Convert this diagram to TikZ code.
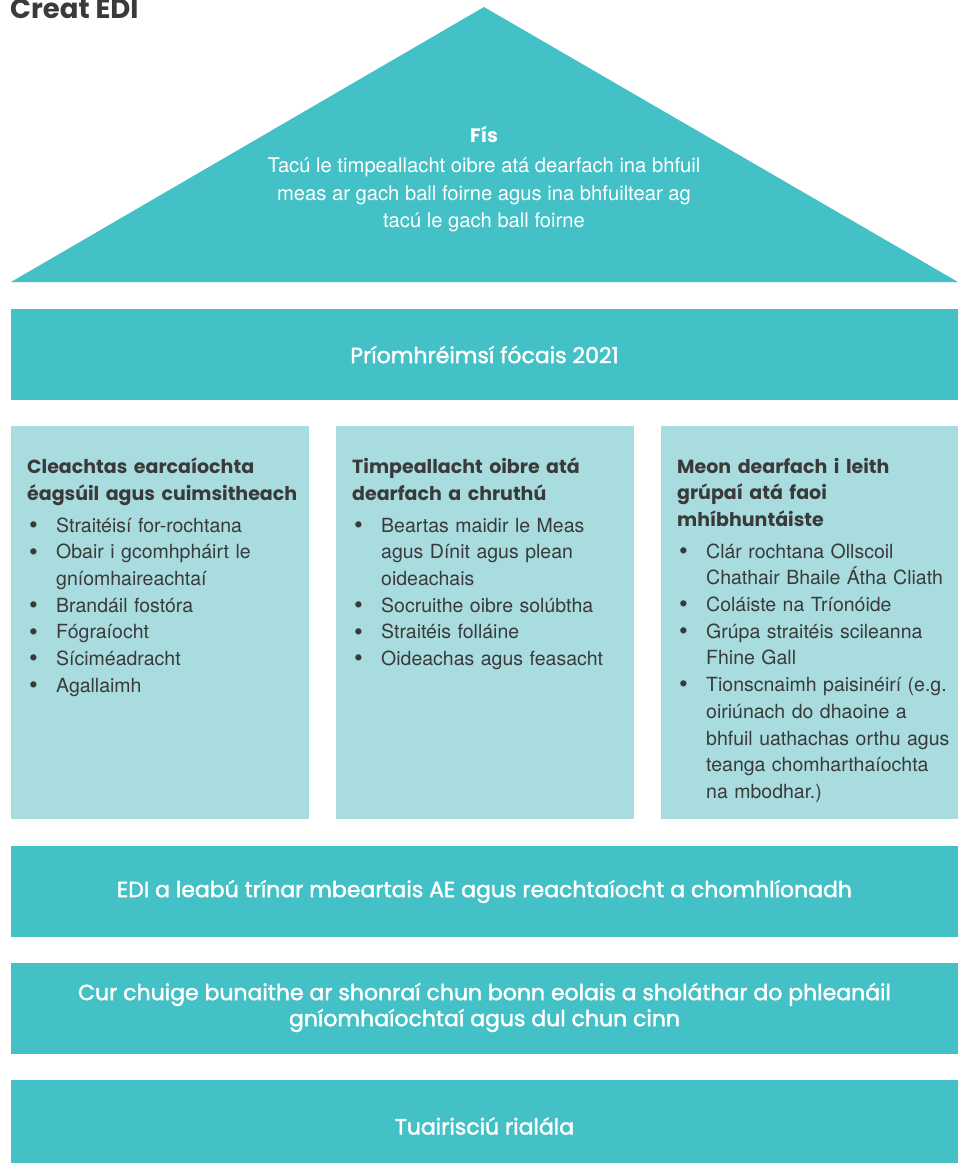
\documentclass[tikz,border=0pt]{standalone}
\usepackage{fontspec}
\setmainfont{TeX Gyre Heros}
\newfontfamily\headfont{Poppins}
\newfontfamily\bandfont{Poppins}[FakeBold=1.8]
\usepackage{enumitem}
\definecolor{tealmain}{HTML}{43C1C6}
\definecolor{tealpale}{HTML}{A8DCDF}
\definecolor{ink}{HTML}{3A3A3A}
\newcommand\colhead[1]{{\headfont\bfseries\fontsize{19}{26.5}\selectfont #1\par}}
\newcommand\dotmark{\raisebox{-1.2pt}{\fontsize{25}{0}\selectfont\textbullet}}
\newenvironment{dotlist}{\begin{itemize}[label={\hspace*{2pt}\dotmark}, align=left,
  labelwidth=26pt, labelsep=3pt, leftmargin=29pt, itemsep=0pt, parsep=0pt,
  topsep=5pt, partopsep=0pt]}{\end{itemize}}

\begin{document}
\begin{tikzpicture}[x=1pt, y=-1pt,
  band/.style={text=white, font=\bandfont\fontsize{22}{26}\selectfont, align=center},
  colbox/.style={anchor=north west, inner sep=0pt, text width=290pt, text=ink, align=left,
    font=\fontsize{19.5}{26.7}\selectfont}]
  \useasboundingbox (0,0) rectangle (966,1163);
  \node[anchor=base west, inner sep=0pt, text=ink, font=\headfont\bfseries\fontsize{27.5}{30}\selectfont]
    (title) at (10,18) {Creat EDI};
  % roof
  \coordinate (apex) at (484,7);
  \coordinate (eaveL) at (11,282);
  \coordinate (eaveR) at (958,282);
  \fill[tealmain] (apex) -- (eaveR) -- (eaveL) -- cycle;
  \node[text=white, font=\headfont\bfseries\fontsize{19.5}{24}\selectfont] (fis) at (484,134) {Fís};
  \node[text=white, align=center, font=\fontsize{20.2}{27.5}\selectfont] (fistext) at (484,195)
    {Tacú le timpeallacht oibre atá dearfach ina bhfuil\\
     meas ar gach ball foirne agus ina bhfuiltear ag\\
     tacú le gach ball foirne};
  % bands
  \fill[tealmain] (11,309) rectangle (958,400) node[midway, band] (prio) {Príomhréimsí fócais 2021};
  \fill[tealmain] (11,846) rectangle (958,937) node[midway, band] (edi) {EDI a leabú trínar mbeartais AE agus reachtaíocht a chomhlíonadh};
  \fill[tealmain] (11,963) rectangle (958,1054) node[midway, band, yshift=1pt] (data)
    {Cur chuige bunaithe ar shonraí chun bonn eolais a sholáthar do phleanáil\\ gníomhaíochtaí agus dul chun cinn};
  \fill[tealmain] (11,1080) rectangle (958,1172) node[midway, band] (reg) {Tuairisciú rialála};
  % pillars
  \fill[tealpale] (11,426) rectangle (309,819);
  \fill[tealpale] (336,426) rectangle (634,819);
  \fill[tealpale] (661,426) rectangle (958,819);
  \node[colbox] (recruit) at (27,458) {%
    \colhead{Cleachtas earcaíochta\\ éagsúil agus cuimsitheach}
    \begin{dotlist}
      \item Straitéisí for-rochtana
      \item Obair i gcomhpháirt le\newline gníomhaireachtaí
      \item Brandáil fostóra
      \item Fógraíocht
      \item Síciméadracht
      \item Agallaimh
    \end{dotlist}};
  \node[colbox] (workenv) at (352,458) {%
    \colhead{Timpeallacht oibre atá\\ dearfach a chruthú}
    \begin{dotlist}
      \item Beartas maidir le Meas\newline agus Dínit agus plean\newline oideachais
      \item Socruithe oibre solúbtha
      \item Straitéis folláine
      \item Oideachas agus feasacht
    \end{dotlist}};
  \node[colbox] (groups) at (677,458) {%
    \colhead{Meon dearfach i leith\\ grúpaí atá faoi\\ mhíbhuntáiste}
    \begin{dotlist}
      \item Clár rochtana Ollscoil\newline Chathair Bhaile Átha Cliath
      \item Coláiste na Tríonóide
      \item Grúpa straitéis scileanna\newline Fhine Gall
      \item Tionscnaimh paisinéirí (e.g.\newline oiriúnach do dhaoine a\newline bhfuil uathachas orthu agus\newline teanga chomharthaíochta\newline na mbodhar.)
    \end{dotlist}};
\end{tikzpicture}
\end{document}
